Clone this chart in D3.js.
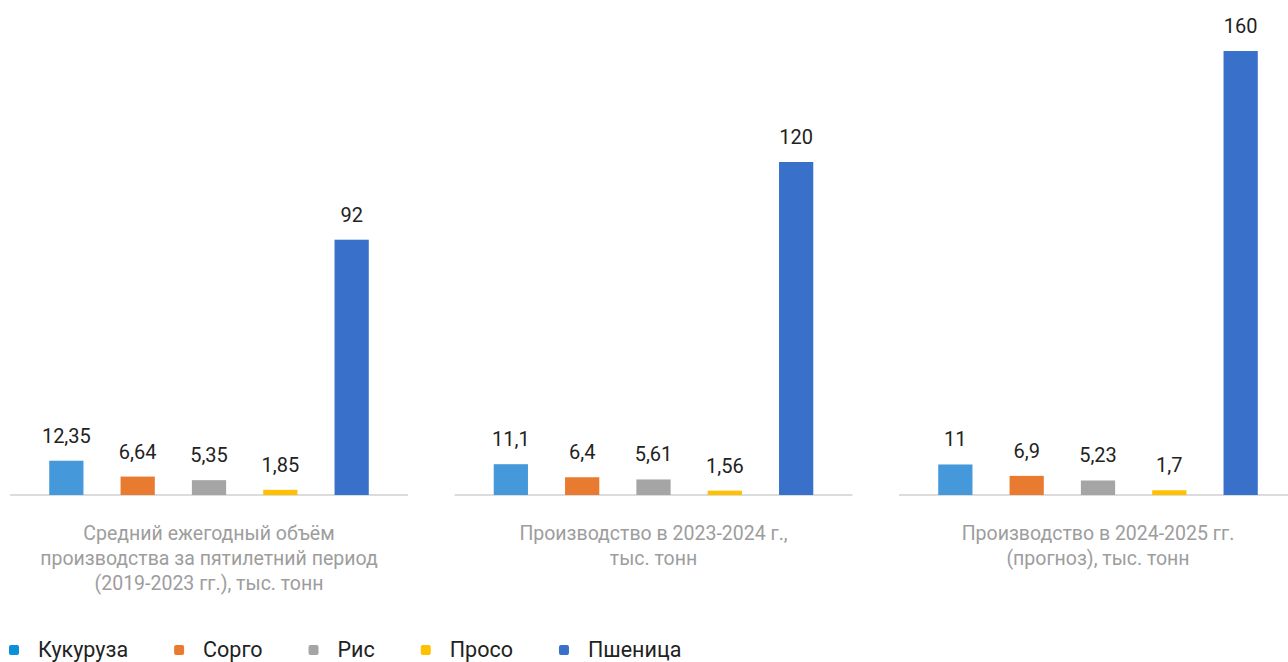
<!DOCTYPE html>
<html>
<head>
<meta charset="utf-8">
<script src="https://cdn.jsdelivr.net/npm/d3@7"></script>
<style>
  body { margin: 0; background: #fff; }
  svg { display: block; font-family: Roboto, "Noto Sans", sans-serif; }
</style>
</head>
<body>
<svg id="vis" width="1288" height="662"></svg>
<script>
// categories (one panel each) and series
const periods = [
  ["Средний ежегодный объём", "производства за пятилетний период", "(2019-2023 гг.), тыс. тонн"],
  ["Производство в 2023-2024 г.,", "тыс. тонн"],
  ["Производство в 2024-2025 гг.", "(прогноз), тыс. тонн"]
]
const crops = ["Кукуруза", "Сорго", "Рис", "Просо", "Пшеница"]
const corn = [12.35, 11.1, 11]
const sorghum = [6.64, 6.4, 6.9]
const rice = [5.35, 5.61, 5.23]
const millet = [1.85, 1.56, 1.7]
const wheat = [92, 120, 160]

const barColors = ["#4599da", "#e97b30", "#a5a5a5", "#ffc000", "#3870ca"]
const legendColors = ["#0a90da", "#e97b30", "#a5a5a5", "#ffc000", "#3870ca"]

const series = [corn, sorghum, rice, millet, wheat]
const vis = d3.select("#vis")

// layout
const baseline = 495
const panelWidth = 398
const panelX = d3.scaleBand().domain(d3.range(periods.length)).range([10, 10 + 444.5 * 3])
const xScale = d3.scaleBand().domain(crops).range([0, panelWidth]).paddingInner(0.52).paddingOuter(0.55)
const yScale = d3.scaleLinear().domain([0, 160]).range([baseline, 51])

const fmt = v => String(v).replace(".", ",")

periods.forEach((lines, i) => {
  const g = vis.append("g").attr("transform", `translate(${panelX(i)},0)`)

  // baseline
  g.append("line")
    .attr("x1", 0).attr("x2", panelWidth)
    .attr("y1", baseline).attr("y2", baseline)
    .attr("stroke", "#d0d0d0").attr("stroke-width", 1.5)

  const vals = crops.map((c, k) => ({ crop: c, value: series[k][i], color: barColors[k] }))

  g.selectAll(".bar")
    .data(vals)
    .enter()
    .append("rect")
    .attr("x", d => xScale(d.crop))
    .attr("y", d => yScale(d.value))
    .attr("width", xScale.bandwidth())
    .attr("height", d => baseline - yScale(d.value))
    .attr("fill", d => d.color)

  g.selectAll(".val")
    .data(vals)
    .enter()
    .append("text")
    .attr("x", d => xScale(d.crop) + xScale.bandwidth() / 2)
    .attr("y", d => yScale(d.value) - 18)
    .attr("text-anchor", "middle")
    .attr("font-size", 20)
    .attr("fill", "#222")
    .text(d => fmt(d.value))

  // category label
  g.append("text")
    .attr("x", panelWidth / 2)
    .attr("text-anchor", "middle")
    .attr("font-size", 19.5)
    .attr("fill", "#9d9d9d")
    .selectAll("tspan")
    .data(lines)
    .enter()
    .append("tspan")
    .attr("x", panelWidth / 2)
    .attr("y", (d, j) => 540 + j * 25)
    .text(d => d)
})

// legend
let lx = 9
crops.forEach((c, k) => {
  const item = vis.append("g").attr("transform", `translate(${lx},650)`)
  item.append("rect")
    .attr("x", 0).attr("y", -5).attr("width", 10).attr("height", 10)
    .attr("rx", 2).attr("fill", legendColors[k])
  const t = item.append("text")
    .attr("x", 29).attr("y", 7)
    .attr("font-size", 21.5)
    .attr("fill", "#222")
    .text(c)
  lx += 29 + t.node().getComputedTextLength() + 46
})
</script>
</body>
</html>
